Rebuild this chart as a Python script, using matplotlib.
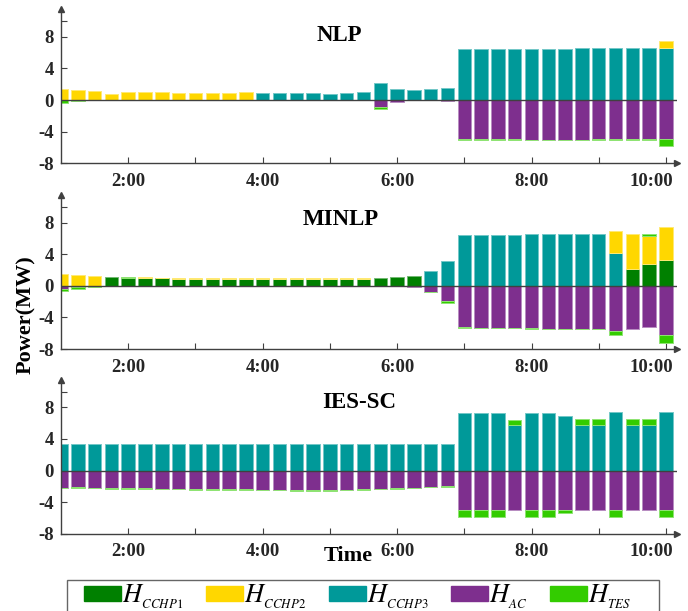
import numpy as np
import matplotlib
matplotlib.use("Agg")
import matplotlib.pyplot as plt
from matplotlib.patches import Patch, Rectangle
from matplotlib.colors import to_rgb
from matplotlib.transforms import ScaledTranslation

plt.rcParams['font.family'] = ['Liberation Serif', 'DejaVu Serif']
plt.rcParams['mathtext.fontset'] = 'stix'

# time axis: 15-minute steps from 1:00 to 10:00
hours = np.arange(37) * 0.25 + 1.0

series_names = ["$H_{_{CCHP1}}$", "$H_{_{CCHP2}}$", "$H_{_{CCHP3}}$", "$H_{_{AC}}$", "$H_{_{TES}}$"]
series_colors = ["#008000", "#FFD700", "#009999", "#7E2F8E", "#33CC00"]

# ---- NLP ----
nlp_cchp1 = [0.0] * 37
nlp_cchp2 = [1.45, 1.3, 1.18, 0.72, 1.0, 1.05, 1.0, 0.93, 0.88, 0.93, 0.93, 1.0] + [0.0] * 24 + [0.88]
nlp_cchp3 = ([0.0] * 12
             + [0.84, 0.88, 0.88, 0.88, 0.8, 0.88, 1.0, 2.15, 1.35, 1.22, 1.4, 1.56]
             + [6.48, 6.48, 6.5, 6.5, 6.52, 6.52, 6.52, 6.54, 6.54, 6.54, 6.54, 6.54, 6.57])
nlp_ac = ([0.0] * 19 + [-0.93, -0.25, -0.05, -0.05, -0.17]
          + [-4.97, -4.97, -4.98, -4.98, -5.0, -5.0, -5.0, -5.0, -4.98, -4.98, -4.98, -4.98, -4.97])
nlp_tes = ([-0.35, -0.15, -0.05] + [0.0] * 16 + [-0.2, 0.0, 0.0, 0.0, 0.0]
           + [-0.05] * 12 + [-0.84])

# ---- MINLP ----
minlp_cchp1 = ([0.0, 0.0, 0.0, 1.08, 0.95, 0.96, 0.94] + [0.92] * 12
               + [1.0, 1.08, 1.25] + [0.0] * 12 + [2.08, 2.7, 3.3])
minlp_cchp2 = ([1.46, 1.33, 1.2, 0.0, 0.05] + [0.1] * 14 + [0.0] * 14
               + [2.75, 4.46, 3.67, 4.12])
minlp_cchp3 = ([0.0] * 22 + [1.92, 3.08, 6.42, 6.46, 6.46, 6.46, 6.5, 6.5, 6.54, 6.54, 6.54, 4.17]
               + [0.0] * 3)
minlp_ac = ([-0.38, -0.2] + [0.0] * 19 + [-0.17, -0.75, -1.96, -5.25, -5.33, -5.33, -5.33,
            -5.38, -5.42, -5.42, -5.42, -5.46, -5.75, -5.46, -5.25, -6.29])
minlp_tes = ([-0.3, -0.17, -0.12, 0.0, 0.15] + [0.0] * 11 + [-0.08, 0.0, 0.0, 0.0, -0.05, 0.0,
             -0.08, -0.17] + [-0.04] * 9 + [-0.46, 0.0, 0.2, -0.92])

# ---- IES-SC ----
ies_cchp1 = [0.0] * 37
ies_cchp2 = [0.0] * 37
ies_cchp3 = ([3.35] * 24 + [7.29, 7.29, 7.29, 5.72, 7.29, 7.29, 6.95, 5.76, 5.76, 7.42,
             5.8, 5.8, 7.46])
ies_ac = ([-2.16, -2.12, -2.2, -2.25, -2.25, -2.25, -2.29, -2.33, -2.37, -2.37, -2.37, -2.37,
           -2.41, -2.45, -2.5, -2.5, -2.5, -2.45, -2.37, -2.33, -2.25, -2.16, -2.08, -2.0]
          + [-5.0] * 13)
ies_tes = ([-0.05] * 24 + [-0.85, -0.85, -0.85, 0.72, -0.85, -0.85, -0.42, 0.76, 0.76, -0.85,
           0.76, 0.76, -0.85])

panels = [
    ("NLP", 5.14, 8.2, [nlp_cchp1, nlp_cchp2, nlp_cchp3, nlp_ac, nlp_tes]),
    ("MINLP", 5.16, 8.4, [minlp_cchp1, minlp_cchp2, minlp_cchp3, minlp_ac, minlp_tes]),
    ("IES-SC", 5.44, 8.6, [ies_cchp1, ies_cchp2, ies_cchp3, ies_ac, ies_tes]),
]

W, H = 688, 611
fig = plt.figure(figsize=(W / 100, H / 100), dpi=100)

axis_col = "#404040"
txt_col = "#262626"


def lighter(c, f=0.45):
    r, g, b = to_rgb(c)
    return (r + (1 - r) * f, g + (1 - g) * f, b + (1 - b) * f)


bottoms_px = [163.2, 349.0, 533.7]
bar_w = 0.2

for (title, tx, ty, data), bpx in zip(panels, bottoms_px):
    ax = fig.add_axes([61 / W, 1 - bpx / H, 616 / W, 154 / H])
    c1, c2, c3, ac, tes = [np.array(d, dtype=float) for d in data]
    tes_pos = np.clip(tes, 0, None)
    tes_neg = np.clip(tes, None, 0)

    base = np.zeros(37)
    # positive stack
    for vals, col in [(c1, series_colors[0]), (c3, series_colors[2]),
                      (c2, series_colors[1]), (tes_pos, series_colors[4])]:
        m = vals > 0
        ax.bar(hours[m], vals[m], bar_w, bottom=base[m], color=col,
               edgecolor=lighter(col), linewidth=0.7, zorder=2)
        base = base + vals
    # negative stack
    base = np.zeros(37)
    for vals, col in [(ac, series_colors[3]), (tes_neg, series_colors[4])]:
        m = vals < 0
        ax.bar(hours[m], vals[m], bar_w, bottom=base[m], color=col,
               edgecolor=lighter(col), linewidth=0.7, zorder=2)
        base = base + vals

    ax.axhline(0, color=axis_col, lw=1.0, zorder=3)

    ax.set_xlim(1, 10.164)
    ax.set_ylim(-8, 11.5)
    for s in ["top", "right"]:
        ax.spines[s].set_visible(False)
    for s in ["left", "bottom"]:
        ax.spines[s].set_color(axis_col)
        ax.spines[s].set_linewidth(1.0)
    ax.plot(1, 0, ">", color=axis_col, ms=4, transform=ax.transAxes, clip_on=False)
    ax.plot(0, 1, "^", color=axis_col, ms=4, transform=ax.transAxes, clip_on=False)

    ax.set_yticks([-8, -4, 0, 4, 8, 10])
    ax.set_yticklabels(["-8", "-4", "0", "4", "8", ""])
    xt = list(range(2, 11))
    ax.set_xticks(xt)
    ax.set_xticklabels([f"{h}:00" if h % 2 == 0 else "" for h in xt])
    ax.tick_params(axis="both", direction="in", length=4, color=axis_col,
                   labelsize=13.5, labelcolor=txt_col)
    ax.tick_params(axis="x", pad=7)
    ax.tick_params(axis="y", pad=5)
    for lab in ax.get_xticklabels() + ax.get_yticklabels():
        lab.set_fontweight("bold")
    # last label sits a little to the left of its tick, as in the original
    last = ax.get_xticklabels()[-1]
    last.set_transform(last.get_transform() + ScaledTranslation(-0.15, 0, fig.dpi_scale_trans))

    ax.text(tx, ty, title, ha="center", va="center", fontsize=16.5,
            fontweight="bold", color="black")

fig.text(26 / W, 1 - 315 / H, "Power(MW)", rotation=90, ha="center", va="center",
         fontsize=16, fontweight="bold", color="black")
fig.text(348 / W, 1 - 556 / H, "Time", ha="center", va="center",
         fontsize=16, fontweight="bold", color="black")

# legend entries without their own frame; the box is drawn separately
handles = [Patch(facecolor=c, edgecolor=c) for c in series_colors]
leg = fig.legend(handles, series_names, loc="upper left", ncol=5,
                 bbox_to_anchor=(84 / W, 1 - 583 / H), borderaxespad=0,
                 fontsize=19, handlelength=1.4, handleheight=0.46,
                 handletextpad=0.05, columnspacing=0.85, borderpad=0.0,
                 frameon=False)
fig.add_artist(Rectangle((67 / W, -0.05), (659 - 67) / W, 0.05 + 1 - 580 / H,
                         transform=fig.transFigure, fill=False,
                         edgecolor="#666666", linewidth=1.0))

fig.savefig("out.png", dpi=100)
